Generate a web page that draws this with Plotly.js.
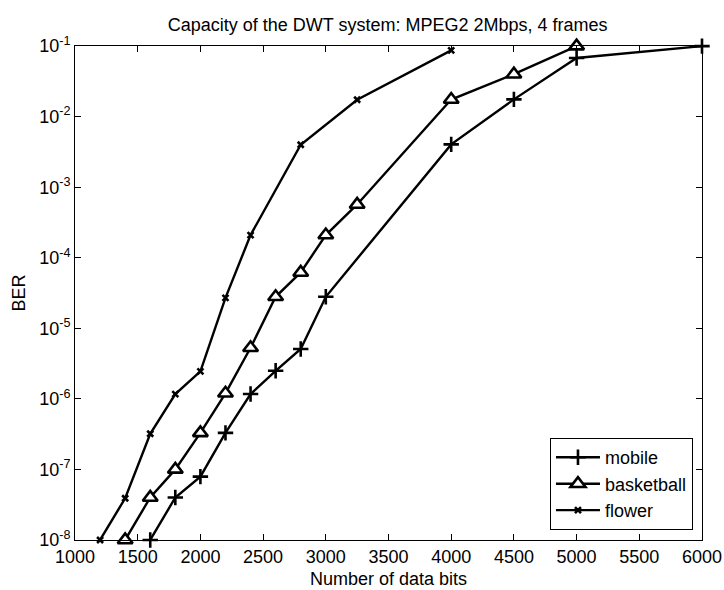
<!DOCTYPE html>
<html>
<head>
<meta charset="utf-8">
<script src="https://cdn.plot.ly/plotly-3.0.1.min.js"></script>
<style>html,body{margin:0;padding:0;background:#fff;}#chart{width:724px;height:590px;}</style>
</head>
<body>
<div id="chart"></div>
<script>
// Data
const mobileX = [1600, 1800, 2000, 2200, 2400, 2600, 2800, 3000, 4000, 4500, 5000, 6000];
const mobileBER = [1e-8, 4e-8, 7.9e-8, 3.3e-7, 1.17e-6, 2.5e-6, 5.1e-6, 2.8e-5, 4.05e-3, 1.76e-2, 6.8e-2, 1e-1];

const basketballX = [1400, 1600, 1800, 2000, 2200, 2400, 2600, 2800, 3000, 3250, 4000, 4500, 5000];
const basketballBER = [1e-8, 4e-8, 1e-7, 3.3e-7, 1.2e-6, 5.3e-6, 2.8e-5, 6.2e-5, 2.1e-4, 5.7e-4, 1.75e-2, 4e-2, 1e-1];

const flowerX = [1200, 1400, 1600, 1800, 2000, 2200, 2400, 2800, 3250, 4000];
const flowerBER = [1e-8, 3.9e-8, 3.2e-7, 1.17e-6, 2.45e-6, 2.7e-5, 2.1e-4, 4.0e-3, 1.74e-2, 8.7e-2];

const yTickVals = [1e-8, 1e-7, 1e-6, 1e-5, 1e-4, 1e-3, 1e-2, 1e-1];
const yTickText = ['10<sup>-8</sup>', '10<sup>-7</sup>', '10<sup>-6</sup>', '10<sup>-5</sup>', '10<sup>-4</sup>', '10<sup>-3</sup>', '10<sup>-2</sup>', '10<sup>-1</sup>'];
const minorMultipliers = [2, 3, 4, 5, 6, 7, 8, 9];

// minor tick positions (2..9 within each decade) for the log axis
const yMinorVals = [];
for (let i = 0; i < yTickVals.length - 1; i++) {
  for (const m of minorMultipliers) yMinorVals.push(m * yTickVals[i]);
}

const FONT = 'Liberation Sans, Arial, sans-serif';
const YRANGE = [-8.0005, -0.998];

const traces = [
  {
    name: 'mobile', x: mobileX, y: mobileBER, type: 'scatter', mode: 'lines+markers',
    cliponaxis: false,
    line: {color: 'black', width: 2.4},
    marker: {symbol: 'cross-thin', size: 11, color: 'black', line: {color: 'black', width: 2.6}}
  },
  {
    name: 'basketball', x: basketballX, y: basketballBER, type: 'scatter', mode: 'lines+markers',
    cliponaxis: false,
    line: {color: 'black', width: 2.4},
    marker: {symbol: 'triangle-up', size: 13, color: 'white', line: {color: 'black', width: 2.6}}
  },
  {
    name: 'flower', x: flowerX, y: flowerBER, type: 'scatter', mode: 'lines+markers',
    cliponaxis: false,
    line: {color: 'black', width: 2.4},
    marker: {symbol: 'x-thin', size: 6, color: 'black', line: {color: 'black', width: 2.6}}
  }
];

const layout = {
  width: 724, height: 590,
  margin: {l: 75, r: 22, t: 46, b: 50},
  paper_bgcolor: 'white', plot_bgcolor: 'white',
  font: {family: FONT, size: 18, color: 'black'},
  showlegend: true,
  title: {
    text: 'Capacity of the DWT system: MPEG2 2Mbps, 4 frames',
    font: {family: FONT, size: 18, color: 'black'},
    x: 0.5355, xanchor: 'center', y: 0.958, yanchor: 'middle'
  },
  xaxis: {
    range: [1000, 6000], tickmode: 'linear', tick0: 1000, dtick: 500,
    showgrid: false, zeroline: false,
    showline: true, linecolor: 'black', linewidth: 1, mirror: 'ticks',
    ticks: 'inside', ticklen: 6, tickcolor: 'black', tickwidth: 1,
    tickfont: {family: FONT, size: 18, color: 'black'},
    title: {text: 'Number of data bits', font: {family: FONT, size: 18, color: 'black'}, standoff: 6},
    automargin: false
  },
  yaxis: {
    type: 'log', range: YRANGE,
    tickmode: 'array', tickvals: yTickVals, ticktext: yTickText,
    showgrid: false, zeroline: false,
    showline: true, linecolor: 'black', linewidth: 1, mirror: 'ticks',
    ticks: 'inside', ticklen: 6, tickcolor: 'black', tickwidth: 1,
    tickfont: {family: FONT, size: 18, color: 'black'},
    title: {text: 'BER', font: {family: FONT, size: 18, color: 'black'}, standoff: 8},
    automargin: false
  },
  yaxis2: {
    type: 'log', range: YRANGE, overlaying: 'y', side: 'left',
    tickmode: 'array', tickvals: yMinorVals, showticklabels: false,
    showgrid: false, zeroline: false,
    showline: true, linecolor: 'black', linewidth: 1, mirror: 'ticks',
    ticks: 'inside', ticklen: 3, tickcolor: 'black', tickwidth: 1,
    automargin: false, fixedrange: true
  },
  legend: {
    x: 0.9856, xanchor: 'right', y: 0.02, yanchor: 'bottom',
    bgcolor: 'white', bordercolor: 'black', borderwidth: 1,
    font: {family: FONT, size: 18, color: 'black'},
    tracegroupgap: 0, itemwidth: 44
  }
};

Plotly.newPlot('chart', traces, layout, {displayModeBar: false, staticPlot: true});
</script>
</body>
</html>
